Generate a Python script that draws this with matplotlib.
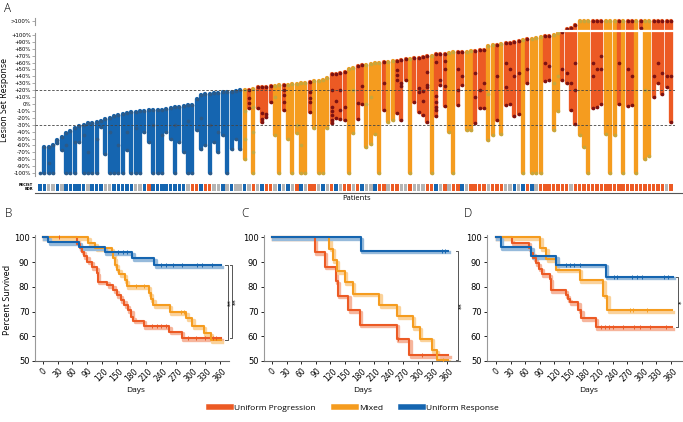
import numpy as np
import matplotlib
matplotlib.use('Agg')
import matplotlib.pyplot as plt
from matplotlib.lines import Line2D

plt.rcParams['font.family'] = ['Open Sans', 'DejaVu Sans']

PROG, MIXED, RESP, GRAY = '#ec5a24', '#f59c1f', '#1565b0', '#b4b4b4'
DOT = {'P': '#7c1212', 'M': '#c7a63c', 'R': '#2c5a88'}
BAR = {'P': PROG, 'M': MIXED, 'R': RESP}
STRIP = {'P': PROG, 'S': GRAY, 'R': RESP}

# ---- panel A: lesion responses per patient (%; 120 = ">100%") ----
lesions = [
    [-100], [-62, -100], [-62, -85, -100], [-60, -100], [-52, -57], [-48, -67],
    [-42, -60, -100], [-39, -100], [-35, -55, -100], [-32, -55], [-30, -45, -100],
    [-28, -70, -100], [-27, -100], [-26, -50, -100], [-24, -33], [-22, -73],
    [-20, -40, -100], [-18, -100], [-16, -60, -100], [-15, -100], [-13, -40, -67],
    [-12, -100], [-11, -35, -100], [-10, -100], [-10, -40], [-9, -55], [-9, -30, -100],
    [-8, -100], [-8, -45, -100], [-7, -40], [-6, -50], [-5, -30, -100], [-4, -55],
    [-3, -70], [-2, -25, -100], [-2, -100], [7, -38], [13, -20, -65], [14, -60],
    [15, -30, -100], [16, -55], [16, -40, -70], [17, -45], [17, -100], [18, -65],
    [19, -50], [20, -65],
    [21, -10, -50, -80], [21, 8, 1, -6], [22, -5, -40, -70, -100], [24, -6],
    [24, -13, -21, -26], [25, -14, -19], [26, 3], [26, 10, -45], [27, -100],
    [27, 20, 13, 3, -9], [28, -50], [29, -100], [29, -30, -42], [30, -60, -100],
    [30, -100], [32, 18, 8, 3, -11], [33, -35], [34, -100], [35, -100], [38, -35],
    [43, 20, -4, -10, -16, -23, -27], [44, 5, -20], [45, 20, -8, -22], [46, -5, -23],
    [50, -100], [52, 20, -42], [55, 1, -21], [56, 26, 0], [57, 0, -62], [58, 10, -58],
    [59, -43], [60, -100], [61, 30, -9], [61, -26], [62, -23], [63, 49, 42, 35, -13],
    [64, 30, 26, -23], [65, 35], [65, -100], [66, 3], [67, 23, 18, -11],
    [68, 19, 5, -16], [69, 47, 27, 25, -26], [70, -100], [72, 61, 11, 3, -4, -9, -18],
    [72, 35, 28], [73, 62, 50, 26, -3], [74, -40], [75, -100], [75, 50, 20, -1],
    [76, 40, 27], [76, -37], [77, -37], [77, 45, 10, -28], [78, 20, -6],
    [78, 30, -6], [84, 15, -52], [85, -45], [86, 40, -23], [87, -43], [88, 60, 25, -1],
    [88, 50, 0], [90, 40, -18], [92, 45, -14], [93, -100], [94, 50, 30], [94, -100],
    [96, -100], [97, -100], [99, 60, 34], [99, 55, 35], [100, 30, -37], [103, 40, -10],
    [105, 50, 35], [108, 45, 30], [110, 30, -8], [115, 60, 20, -29], [120, -45],
    [120, -62], [120, -100], [120, 60, 40, -6], [120, 50, -5], [120, 70, 50, 0],
    [120, -43], [120, -100], [120, -45], [120, 60, 0], [120, -100], [120, 50, -3],
    [120, 40, -1], [120, -100], [120, 110], [120, 20, -80], [120, -76],
    [120, 40, 10], [120, 60, 30], [120, 45, 15], [120, 40, 25], [120, 40, -26],
]
group = ("RRRRRRRRRR" "RRRRRRRRRR" "RRRRRRRRRR" "RRRRRRRRRR" "RRRRRRRMPM"
         "PPPPMMPMMM" "MMPMMMMPPP" "PMMPPMMMMP" "MMPPPMPPPP" "MPPPMMPPMM"
         "PPPMMPMPPP" "PMPMMMPPMM" "PPPPMMMPPP" "MMMPMPPMPM" "MPPPPP")
recist = ("RRSSRSRRRR" "RSRRRSSRRR" "RRSSRPRRRR" "RRRRSPPRPP" "SSRSRSSRSP"
          "SRPPSRSRSP" "RSPPSRSPRS" "PPSPRSSRPP" "SPPSSPSSSP" "PRSPSPPRSP"
          "PPPSPPPSSR" "SRPRSPPPPP" "PPSPPPPPPP" "PPPPPPPPPP" "PPPPSP")

# ---- panels B-D: Kaplan-Meier curves (days, percent survived, censor days) ----
b_resp_t = [0, 11, 74, 126, 182, 226, 362]
b_resp_s = [100, 98, 96, 94, 91.6, 88.8, 88.8]
b_resp_c = [153, 162, 171, 241, 251, 265, 282, 313, 323, 343]
b_mixed_t = [0, 92, 106, 140, 143, 146, 150, 155, 166, 170, 215, 219, 224, 258, 292, 304, 327, 341, 362]
b_mixed_s = [100, 97.6, 95.6, 94, 91.5, 89, 87, 85.2, 82.8, 80.4, 77.6, 75, 72.7, 69.7, 67.3, 64.2, 61.2, 58.5, 58.5]
b_mixed_c = [190, 205, 280, 287]
b_prog_t = [0, 70, 75, 79, 83, 90, 99, 109, 111, 131, 143, 150, 158, 165, 173, 180, 184, 205, 257, 282, 362]
b_prog_s = [100, 97.5, 95.6, 94.3, 92.5, 90.2, 88, 85.6, 82.1, 80.8, 78.7, 76.7, 74.7, 72.7, 70.6, 67.9, 66.3, 64.2, 61.9, 59.2, 59.2]
b_prog_c = [33, 221, 231, 241, 251, 295, 312, 329, 346, 353]

c_resp_t = [0, 183, 362]
c_resp_s = [100, 94.7, 94.7]
c_resp_c = [350, 356]
c_mixed_t = [0, 118, 125, 133, 150, 166, 221, 258, 290, 305, 329, 340, 362]
c_mixed_s = [100, 95.5, 90.9, 86.4, 81.8, 77.3, 72.7, 68.2, 63.6, 59.1, 54.5, 50.5, 50.5]
c_mixed_c = [352]
c_prog_t = [0, 88, 109, 131, 136, 157, 181, 257, 283, 363]
c_prog_s = [100, 94.1, 88.2, 82.4, 76.5, 70.6, 64.7, 58.8, 52.5, 52.5]
c_prog_c = [260, 310]

d_resp_t = [0, 10, 73, 124, 226, 364]
d_resp_s = [100, 96.2, 92.5, 89, 84.1, 84.1]
d_resp_c = [144, 152, 160, 172, 243, 250, 280, 290, 300, 345, 355]
d_mixed_t = [0, 91, 104, 124, 173, 221, 229, 362]
d_mixed_s = [100, 95.7, 91.3, 87, 82.6, 76.5, 70.6, 70.6]
d_mixed_c = [275, 283, 310]
d_prog_t = [0, 32, 68, 72, 77, 82, 88, 94, 111, 113, 144, 148, 152, 169, 176, 206, 362]
d_prog_s = [100, 97.9, 95.8, 93.7, 91.6, 89.5, 87.4, 85.3, 83.2, 78.7, 76.7, 75.0, 73.9, 70.6, 67.3, 63.6, 63.6]
d_prog_c = [217, 225, 232, 240, 262, 285, 297, 318, 350]

W, H = 683, 422
fig = plt.figure(figsize=(W / 100, H / 100), dpi=100)


def box(l, t, r, b):
    return [l / W, 1 - b / H, (r - l) / W, (b - t) / H]


# ---------------- panel A ----------------
n = len(lesions)
ax = fig.add_axes(box(35, 14, 675, 178))
for i, (les, g) in enumerate(zip(lesions, group)):
    ax.plot([i, i], [min(les), max(les)], color=BAR[g], lw=3.1,
            solid_capstyle='round', zorder=2)
    ax.scatter([i] * len(les), les, s=7, color=DOT[g], lw=0, zorder=3)
ax.axhline(20, color='#444', lw=0.6, ls=(0, (3, 2)), zorder=4)
ax.axhline(-30, color='#444', lw=0.6, ls=(0, (3, 2)), zorder=4)
ax.axhline(106, color='white', lw=1.6, zorder=5)
ax.set_xlim(-1.15, n - 0.1)
ax.set_ylim(-107.2, 130.4)
ticks = list(range(-100, 101, 10)) + [120]
labels = [('>100%' if v == 120 else '0%' if v == 0 else f'{v:+d}%') for v in ticks]
ax.set_yticks(ticks)
ax.set_yticklabels(labels, fontsize=3.9, family='DejaVu Sans')
ax.tick_params(axis='y', length=2, width=0.5, color='#888', pad=1)
ax.set_xticks([])
for s in ax.spines.values():
    s.set_visible(False)
tr = ax.get_yaxis_transform()
ax.plot([0, 0], [-104, 103], color='#999', lw=0.8, transform=tr, clip_on=False)
ax.plot([0, 0], [115, 125], color='#999', lw=0.8, transform=tr, clip_on=False)

sx = fig.add_axes(box(35, 184, 675, 191))
sx.bar(range(n), 1, width=0.8, color=[STRIP[r] for r in recist])
sx.set_xlim(-1.15, n - 0.1)
sx.set_ylim(0, 1)
sx.axis('off')
fig.add_artist(Line2D([35 / W, 1], [1 - 193 / H] * 2, color='#555', lw=0.8))
fig.text(33 / W, 1 - 187.5 / H, 'RECIST\nBOR', fontsize=2.6, ha='right', va='center',
         family='DejaVu Sans', fontweight='bold', linespacing=1.0)
fig.text(357 / W, 1 - 199 / H, 'Patients', fontsize=5.5, ha='center', va='center')
fig.text(5 / W, 1 - 100 / H, 'Lesion Set Response', fontsize=6.3, rotation=90,
         ha='center', va='center')


# ---------------- panels B-D ----------------
def lighten(c, f=0.55):
    rgb = np.array(matplotlib.colors.to_rgb(c))
    return tuple(rgb + (1 - rgb) * f)


def km(a, t, s, cens, color):
    t = np.array(t, float)
    s = np.array(s, float)
    a.step(t + 3, s - 0.7, where='post', color=lighten(color), lw=2.4, zorder=2)
    a.step(t, s, where='post', color=color, lw=1.5, zorder=3)
    c = np.array(cens, float)
    cs = s[np.searchsorted(t, c, side='right') - 1]
    a.plot(c, cs, ls='none', marker='|', ms=3, mew=0.7, color=color, zorder=4)


def bracket(a, x, y0, y1, txt, tx):
    a.plot([x - 5, x, x, x - 5], [y0, y0, y1, y1], color='#555', lw=0.7, clip_on=False)
    a.text(tx, (y0 + y1) / 2, txt, rotation=90, fontsize=5, ha='center', va='center',
           family='DejaVu Sans', clip_on=False)


panels = [
    (box(35, 235, 229, 361), (-16.3, 378.5),
     [(b_prog_t, b_prog_s, b_prog_c, PROG), (b_mixed_t, b_mixed_s, b_mixed_c, MIXED),
      (b_resp_t, b_resp_s, b_resp_c, RESP)]),
    (box(264, 235, 460, 361), (-16.5, 387.4),
     [(c_prog_t, c_prog_s, c_prog_c, PROG), (c_mixed_t, c_mixed_s, c_mixed_c, MIXED),
      (c_resp_t, c_resp_s, c_resp_c, RESP)]),
    (box(487, 235, 682, 361), (-18.5, 383),
     [(d_prog_t, d_prog_s, d_prog_c, PROG), (d_mixed_t, d_mixed_s, d_mixed_c, MIXED),
      (d_resp_t, d_resp_s, d_resp_c, RESP)]),
]
kax = []
for pos, xl, curves in panels:
    a = fig.add_axes(pos)
    for t, s, c, col in curves:
        km(a, t, s, c, col)
    a.set_xlim(*xl)
    a.set_ylim(50, 101)
    a.set_xticks(range(0, 361, 30))
    a.set_yticks(range(50, 101, 10))
    a.tick_params(axis='x', labelsize=5.5, rotation=45, length=2.5, width=0.6, pad=1.5)
    a.tick_params(axis='y', labelsize=6, length=2.5, width=0.6, pad=1.5)
    for lab in a.get_xticklabels() + a.get_yticklabels():
        lab.set_family('DejaVu Sans')
    a.spines['top'].set_visible(False)
    a.spines['right'].set_visible(False)
    a.spines['left'].set_color('#999')
    a.spines['bottom'].set_color('#666')
    a.spines['left'].set_linewidth(0.8)
    a.spines['bottom'].set_linewidth(0.8)
    kax.append(a)

bracket(kax[0], 376, 88.8, 58.5, '**', 381)
bracket(kax[0], 385, 88.8, 59.2, '**', 391)
bracket(kax[1], 384, 94.7, 50.5, '**', 390)
bracket(kax[2], 375, 84.1, 63.6, '*', 382)

for x in (136, 363, 589):
    fig.text(x / W, 1 - 390 / H, 'Days', fontsize=6, ha='center', va='center')
fig.text(8 / W, 1 - 300 / H, 'Percent Survived', fontsize=6.5, rotation=90,
         ha='center', va='center')

for lab, x, y in [('A', 8, 8), ('B', 8, 213), ('C', 245, 213), ('D', 468, 213)]:
    fig.text(x / W, 1 - y / H, lab, fontsize=8.5, ha='center', va='center', fontweight='light')

handles = [Line2D([], [], color=PROG, lw=4), Line2D([], [], color=MIXED, lw=4),
           Line2D([], [], color=RESP, lw=4)]
fig.legend(handles, ['Uniform Progression', 'Mixed', 'Uniform Response'], loc='center',
           bbox_to_anchor=(354 / W, 1 - 408 / H), ncol=3, frameon=False, fontsize=6,
           handlelength=2.6, columnspacing=2.2, handletextpad=0.4)

fig.savefig('out.png', dpi=100)
